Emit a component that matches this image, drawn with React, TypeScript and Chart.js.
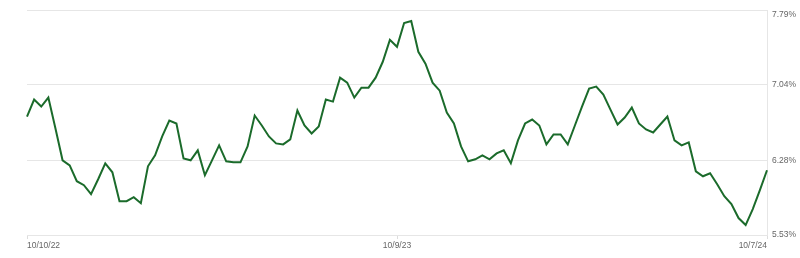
import React, { useEffect, useRef } from "react";
import { Chart, registerables } from "chart.js";

Chart.register(...registerables);

const startDate = "2022-10-10";
const rates: number[] = [
  6.72, 6.89, 6.82, 6.91, 6.60, 6.28, 6.23, 6.07, 6.03, 5.94,
  6.09, 6.25, 6.16, 5.87, 5.87, 5.91, 5.85, 6.22, 6.33, 6.52,
  6.68, 6.65, 6.30, 6.28, 6.38, 6.13, 6.28, 6.43, 6.27, 6.26,
  6.26, 6.42, 6.73, 6.63, 6.52, 6.45, 6.44, 6.49, 6.78, 6.63,
  6.55, 6.62, 6.89, 6.87, 7.11, 7.06, 6.91, 7.01, 7.01, 7.11,
  7.27, 7.49, 7.42, 7.66, 7.68, 7.37, 7.25, 7.06, 6.98, 6.76,
  6.65, 6.42, 6.27, 6.29, 6.33, 6.29, 6.35, 6.38, 6.25, 6.48,
  6.65, 6.69, 6.63, 6.44, 6.54, 6.54, 6.44, 6.63, 6.82, 7.00,
  7.02, 6.94, 6.79, 6.64, 6.71, 6.81, 6.65, 6.59, 6.56, 6.64,
  6.72, 6.48, 6.43, 6.46, 6.17, 6.12, 6.15, 6.04, 5.92, 5.84,
  5.70, 5.63, 5.79, 5.98, 6.18,
];
const yTicks = [5.53, 6.28, 7.04, 7.79];
const xTickIndices = [0, 52, 104];

function weekLabel(i: number): string {
  const d = new Date(startDate + "T12:00:00");
  d.setDate(d.getDate() + i * 7);
  return `${d.getMonth() + 1}/${d.getDate()}/${String(d.getFullYear()).slice(2)}`;
}
const labels = rates.map((_, i) => weekLabel(i));

const tickFont = { family: "Liberation Sans, Arial, sans-serif", size: 8.5 };

export default function App() {
  const ref = useRef<HTMLCanvasElement | null>(null);
  useEffect(() => {
    document.body.style.margin = "0";
    if (!ref.current) return;
    const chart = new Chart(ref.current, {
      type: "line",
      data: {
        labels,
        datasets: [
          {
            data: rates,
            borderColor: "#1b6b2b",
            borderWidth: 2,
            pointRadius: 0,
            tension: 0,
            fill: false,
          },
        ],
      },
      options: {
        animation: false,
        responsive: false,
        maintainAspectRatio: false,
        layout: { padding: { left: 27, top: 0, right: 0, bottom: 0 } },
        plugins: { legend: { display: false }, tooltip: { enabled: false } },
        scales: {
          x: {
            type: "category",
            offset: false,
            grid: {
              display: true,
              drawOnChartArea: false,
              drawTicks: true,
              tickLength: 4,
              color: "#dddddd",
            },
            border: { display: true, color: "#e6e6e6" },
            afterBuildTicks: (scale: any) => {
              scale.ticks = scale.ticks.filter((t: any) => xTickIndices.includes(t.value));
            },
            afterFit: (scale: any) => {
              scale.height = 23;
            },
            ticks: {
              autoSkip: false,
              maxRotation: 0,
              align: "inner",
              padding: 2,
              color: "#666666",
              font: tickFont,
            },
          },
          y: {
            position: "right",
            min: 5.53,
            max: 7.79,
            grid: { color: "#e6e6e6", drawTicks: false },
            border: { display: true, color: "#e6e6e6" },
            afterBuildTicks: (scale: any) => {
              scale.ticks = yTicks.map((v) => ({ value: v }));
            },
            afterFit: (scale: any) => {
              scale.width = 33;
              scale.paddingTop = 10;
            },
            ticks: {
              padding: 5,
              color: "#666666",
              font: tickFont,
              callback: (v: any) => {
                const s = Number(v).toFixed(2) + "%";
                return Number(v) === yTicks[yTicks.length - 1] ? ["", s] : s;
              },
            },
          },
        },
      },
    });
    return () => chart.destroy();
  }, []);
  return (
    <div style={{ width: 800, height: 258 }}>
      <canvas ref={ref} width={800} height={258} style={{ display: "block" }} />
    </div>
  );
}
